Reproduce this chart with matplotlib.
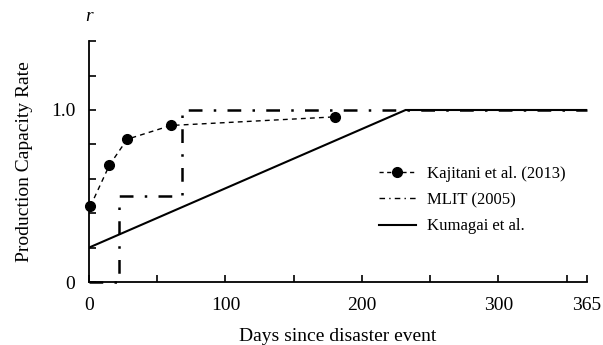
import numpy as np
import matplotlib.pyplot as plt
from matplotlib.lines import Line2D

plt.rcParams['font.family'] = ['Liberation Serif', 'DejaVu Serif']

# Kajitani et al. (2013) survey points
kaj_days = [1, 15, 28, 60, 180]
kaj_rate = [0.44, 0.68, 0.83, 0.91, 0.96]

# MLIT (2005) step function
mlit_days = [0, 22, 22, 68, 68, 365]
mlit_rate = [0.0, 0.0, 0.5, 0.5, 1.0, 1.0]

# Kumagai et al. linear recovery
kum_days = [0, 232, 365]
kum_rate = [0.2, 1.0, 1.0]

x_ticks = [0, 100, 200, 300, 365]
y_ticks = [0, 1.0]
y_tick_labels = ["0", "1.0"]

fig = plt.figure(figsize=(6.03, 3.45), dpi=100)
ax = fig.add_axes([0.1476, 0.1826, 0.826, 0.698])

ax.plot(mlit_days, mlit_rate, color='black', linewidth=1.8,
        linestyle=(0, (5.5, 4.5, 1, 4.5)), clip_on=False)
ax.plot(kum_days, kum_rate, color='black', linewidth=1.5)
ax.plot(kaj_days, kaj_rate, color='black', linewidth=1.0, linestyle=(0, (3.5, 3)),
        marker='o', markersize=7, clip_on=False)

ax.set_xlim(0, 365)
ax.set_ylim(0, 1.4)
ax.spines['top'].set_visible(False)
ax.spines['right'].set_visible(False)
ax.spines['left'].set_linewidth(1.3)
ax.spines['bottom'].set_linewidth(1.3)

ax.set_xticks(x_ticks)
ax.set_xticks(np.arange(0, 365, 50), minor=True)
ax.set_yticks(y_ticks)
ax.set_yticklabels(y_tick_labels)
ax.set_yticks(np.arange(0, 1.41, 0.2), minor=True)
ax.tick_params(which='both', direction='in', length=5, width=1.2, labelsize=14)
ax.tick_params(axis='x', pad=11)
ax.tick_params(axis='y', pad=10)

ax.set_xlabel("Days since disaster event", fontsize=14, labelpad=10)
ax.set_ylabel("Production Capacity Rate", fontsize=14, labelpad=13)
ax.text(0, 1.545, "r", style='italic', fontsize=14, ha='center', va='center')

handles = [
    Line2D([], [], color='black', linewidth=1.0, linestyle=(0, (3, 2.5)),
           marker='o', markersize=7),
    Line2D([], [], color='black', linewidth=1.0, linestyle=(0, (4, 3, 1, 3))),
    Line2D([], [], color='black', linewidth=1.5),
]
ax.legend(handles, ["Kajitani et al. (2013)", "MLIT (2005)", "Kumagai et al."],
          loc='center left', bbox_to_anchor=(0.552, 0.34), frameon=False,
          fontsize=12, handlelength=2.2, handletextpad=0.7, labelspacing=0.62)

fig.savefig("out.png", dpi=100)
